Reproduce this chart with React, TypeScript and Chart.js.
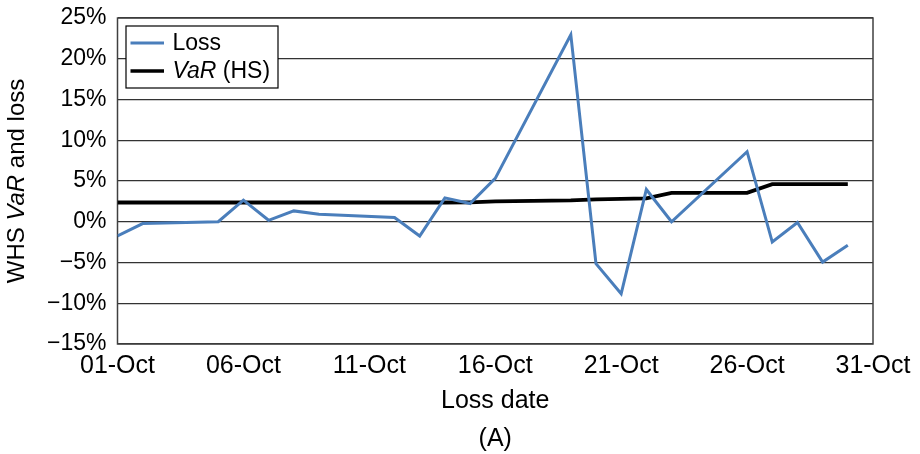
import React, { useEffect, useRef } from "react";
import { Chart, registerables } from "chart.js";

Chart.register(...registerables);

// Business days of October (day of month) and values in %
const lossDays = [1, 2, 5, 6, 7, 8, 9, 12, 13, 14, 15, 16, 19, 20, 21, 22, 23, 26, 27, 28, 29, 30];
const lossValues = [-1.75, -0.22, 0.0, 2.65, 0.18, 1.33, 0.92, 0.52, -1.75, 2.93, 2.24, 5.32, 22.95, -5.14, -8.84, 3.96, 0.0, 8.6, -2.49, -0.1, -4.95, -2.89];
const varValues = [2.36, 2.36, 2.36, 2.36, 2.36, 2.36, 2.36, 2.36, 2.36, 2.36, 2.38, 2.5, 2.62, 2.74, 2.8, 2.86, 3.54, 3.54, 4.62, 4.62, 4.62, 4.62];
const xTickDays = [1, 6, 11, 16, 21, 26, 31];
const monthLabel = "Oct";
const yMin = -15;
const yMax = 25;
const yStep = 5;

const FONT = '"Liberation Sans", Arial, Helvetica, sans-serif';
const LOSS_COLOR = "#4A7EBB";

function fmtDay(d: number) {
  return (d < 10 ? "0" + d : "" + d) + "-" + monthLabel;
}

function drawMixed(ctx: CanvasRenderingContext2D, parts: { t: string; i: boolean }[], size: number, cx: number, cy: number) {
  let total = 0;
  const widths = parts.map((p) => {
    ctx.font = `${p.i ? "italic " : ""}${size}px ${FONT}`;
    const w = ctx.measureText(p.t).width;
    total += w;
    return w;
  });
  let x = cx - total / 2;
  ctx.textAlign = "left";
  ctx.textBaseline = "middle";
  parts.forEach((p, k) => {
    ctx.font = `${p.i ? "italic " : ""}${size}px ${FONT}`;
    ctx.fillText(p.t, x, cy);
    x += widths[k];
  });
}

const decorPlugin = {
  id: "decor",
  beforeDatasetsDraw(chart: any) {
    const { ctx, chartArea } = chart;
    ctx.save();
    ctx.strokeStyle = "#404040";
    ctx.lineWidth = 1.5;
    ctx.strokeRect(chartArea.left, chartArea.top, chartArea.right - chartArea.left, chartArea.bottom - chartArea.top);
    ctx.restore();
  },
  afterDraw(chart: any) {
    const { ctx, chartArea } = chart;
    ctx.save();
    ctx.fillStyle = "#000";
    const cx = (chartArea.left + chartArea.right) / 2;
    const cy = (chartArea.top + chartArea.bottom) / 2;
    // x title
    drawMixed(ctx, [{ t: "Loss date", i: false }], 25, cx, chartArea.bottom + 57);
    drawMixed(ctx, [{ t: "(A)", i: false }], 25, cx, chartArea.bottom + 95);
    // y title
    ctx.save();
    ctx.translate(17, cy);
    ctx.rotate(-Math.PI / 2);
    drawMixed(ctx, [{ t: "WHS ", i: false }, { t: "VaR", i: true }, { t: " and loss", i: false }], 24, 0, 0);
    ctx.restore();
    // legend
    const lx = chartArea.left + 8.5;
    const ly = chartArea.top + 8;
    const lw = 152;
    const lh = 62;
    ctx.fillStyle = "#fff";
    ctx.fillRect(lx, ly, lw, lh);
    ctx.strokeStyle = "#000";
    ctx.lineWidth = 1.2;
    ctx.strokeRect(lx, ly, lw, lh);
    const items = [
      { color: LOSS_COLOR, width: 3, parts: [{ t: "Loss", i: false }], y: ly + 17 },
      { color: "#000", width: 3.5, parts: [{ t: "VaR", i: true }, { t: " (HS)", i: false }], y: ly + 45 },
    ];
    items.forEach((it) => {
      ctx.strokeStyle = it.color;
      ctx.lineWidth = it.width;
      ctx.beginPath();
      ctx.moveTo(lx + 4.5, it.y);
      ctx.lineTo(lx + 38, it.y);
      ctx.stroke();
      ctx.fillStyle = "#000";
      let x = lx + 46.5;
      ctx.textAlign = "left";
      ctx.textBaseline = "middle";
      it.parts.forEach((p) => {
        ctx.font = `${p.i ? "italic " : ""}23px ${FONT}`;
        ctx.fillText(p.t, x, it.y + 1);
        x += ctx.measureText(p.t).width;
      });
    });
    ctx.restore();
  },
};

export default function App() {
  const ref = useRef<HTMLCanvasElement | null>(null);
  useEffect(() => {
    if (!ref.current) return;
    const chart = new Chart(ref.current, {
      type: "line",
      data: {
        datasets: [
          {
            label: "Loss",
            data: lossDays.map((d, i) => ({ x: d, y: lossValues[i] })),
            borderColor: LOSS_COLOR,
            borderWidth: 3,
            pointRadius: 0,
            tension: 0,
            fill: false,
          },
          {
            label: "VaR (HS)",
            data: lossDays.map((d, i) => ({ x: d, y: varValues[i] })),
            borderColor: "#000",
            borderWidth: 3.8,
            pointRadius: 0,
            tension: 0,
            fill: false,
          },
        ],
      },
      options: {
        responsive: false,
        animation: false,
        layout: { padding: { left: 0, top: 18, right: 47, bottom: 0 } },
        plugins: { legend: { display: false }, tooltip: { enabled: false }, title: { display: false } },
        scales: {
          x: {
            type: "linear",
            min: xTickDays[0],
            max: xTickDays[xTickDays.length - 1],
            afterBuildTicks: (s: any) => {
              s.ticks = xTickDays.map((v) => ({ value: v }));
            },
            afterFit: (s: any) => {
              s.height = 110;
            },
            grid: { display: false, drawTicks: false },
            border: { display: false },
            ticks: {
              autoSkip: false,
              maxRotation: 0,
              padding: 7,
              color: "#000",
              font: { family: FONT, size: 25 },
              callback: (v: any) => fmtDay(Number(v)),
            },
          },
          y: {
            min: yMin,
            max: yMax,
            afterFit: (s: any) => {
              s.width = 117.5;
              s.paddingTop = 0;
              s.paddingBottom = 0;
            },
            grid: { color: "#333", lineWidth: 1.3, drawTicks: false },
            border: { display: false },
            ticks: {
              stepSize: yStep,
              padding: 11,
              color: "#000",
              font: { family: FONT, size: 23 },
              callback: (v: any) => (Number(v) < 0 ? "\u2212" + Math.abs(Number(v)) : String(v)) + "%",
            },
          },
        },
      },
      plugins: [decorPlugin],
    });
    return () => chart.destroy();
  }, []);
  return (
    <div style={{ position: "absolute", left: 0, top: 0, width: 920, height: 454, background: "#fff" }}>
      <canvas ref={ref} width={920} height={454} />
    </div>
  );
}
